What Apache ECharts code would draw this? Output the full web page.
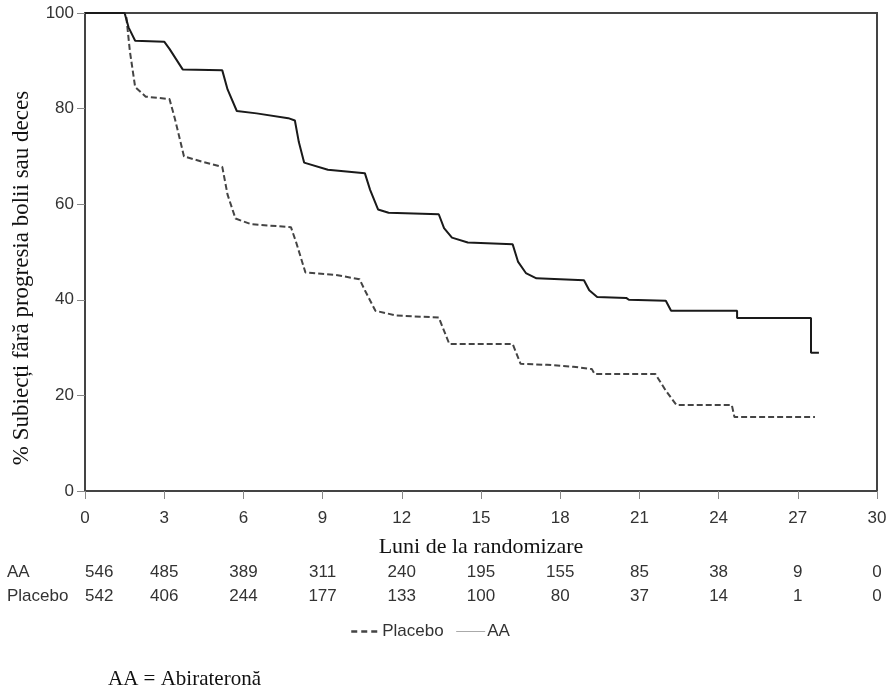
<!DOCTYPE html>
<html>
<head>
<meta charset="utf-8">
<script src="https://cdn.jsdelivr.net/npm/echarts@6/dist/echarts.min.js"></script>
<style>html,body{margin:0;padding:0;background:#fff}#c{width:890px;height:695px}</style>
</head>
<body>
<div id="c"></div>
<script>
// Kaplan-Meier curves: [month, % progression-free]
const aaCurve = [[0,100],[1.5,100],[1.65,97],[1.9,94.2],[3.0,94],[3.2,92.5],[3.7,88.2],[5.2,88],[5.4,84],[5.75,79.5],[6.5,79],[7.7,78],[7.95,77.5],[8.1,73],[8.3,68.7],[9.2,67.2],[10.6,66.5],[10.8,63],[11.1,58.9],[11.5,58.2],[13.4,57.9],[13.6,55],[13.9,53],[14.5,52],[16.2,51.6],[16.4,48],[16.7,45.6],[17.1,44.5],[18.9,44.1],[19.1,42],[19.4,40.6],[20.5,40.4],[20.6,40.0],[22.0,39.8],[22.2,37.7],[24.7,37.7],[24.7,36.2],[27.5,36.2],[27.5,28.9],[27.8,28.9]];
const placeboCurve = [[0,100],[1.55,100],[1.7,92],[1.9,84.5],[2.3,82.5],[3.2,82],[3.4,78],[3.75,70],[4.5,68.8],[5.2,67.8],[5.4,62],[5.7,57],[6.3,55.8],[7.8,55.2],[8.0,52],[8.35,45.7],[9.5,45.2],[10.4,44.3],[10.6,42],[11.0,37.7],[11.8,36.7],[13.4,36.3],[13.8,30.75],[16.2,30.75],[16.5,26.6],[17.5,26.4],[18.5,26],[19.2,25.5],[19.3,24.5],[21.6,24.5],[22.0,21],[22.4,18.0],[24.5,18.0],[24.6,15.5],[27.65,15.5]];
const riskMonths = [0,3,6,9,12,15,18,21,24,27,30];
const aaRisk = [546,485,389,311,240,195,155,85,38,9,0];
const placeboRisk = [542,406,244,177,133,100,80,37,14,1,0];

const sans = 'Liberation Sans';
const serif = 'Liberation Serif';
const chart = echarts.init(document.getElementById('c'));
function riskAxis(arr, offset){
  return {
    type:'value', min:0, max:30, interval:3, position:'bottom', offset:offset,
    axisLine:{show:false}, axisTick:{show:false}, splitLine:{show:false},
    axisLabel:{margin:8, fontFamily:sans, fontSize:17, color:'#333', alignMinLabel:'left',
      formatter:function(v){ const i = riskMonths.indexOf(Math.round(v)); return i>=0 ? String(arr[i]) : ''; }}
  };
}
chart.setOption({
  animation:false,
  grid:{left:85, right:13, top:13, bottom:204, show:true, borderColor:'#444', borderWidth:2, backgroundColor:'transparent'},
  legend:{top:618, left:345, itemWidth:29, itemHeight:10, itemGap:12,
    itemStyle:{opacity:0},
    textStyle:{fontFamily:sans, fontSize:17, color:'#333', padding:[0,0,0,-3]},
    data:[{name:'Placebo', lineStyle:{width:2.5, type:[6,4]}},{name:'AA', lineStyle:{width:1, color:'#aaa'}}]},
  xAxis:[{
    type:'value', min:0, max:30, interval:3,
    axisLine:{show:true, lineStyle:{color:'#444', width:2}},
    axisTick:{show:true, length:8, lineStyle:{color:'#888'}},
    splitLine:{show:false},
    axisLabel:{margin:19, fontFamily:sans, fontSize:17, color:'#333'},
    name:'Luni de la randomizare', nameLocation:'middle', nameGap:45,
    nameTextStyle:{fontFamily:serif, fontSize:22, color:'#111'}
  }, riskAxis(aaRisk, 65), riskAxis(placeboRisk, 89)],
  yAxis:{
    type:'value', min:0, max:100, interval:20,
    axisLine:{show:true, lineStyle:{color:'#444', width:2}},
    axisTick:{show:true, length:8, lineStyle:{color:'#888'}},
    splitLine:{show:false},
    axisLabel:{margin:11, fontFamily:sans, fontSize:17, color:'#333'},
    name:'% Subiecți fără progresia bolii sau deces', nameLocation:'middle', nameGap:52,
    nameTextStyle:{fontFamily:serif, fontSize:23, color:'#111', padding:[0,52,0,0]}
  },
  series:[
    {name:'Placebo', type:'line', data:placeboCurve, symbol:'none',
     itemStyle:{color:'#444'},
     lineStyle:{color:'#444', width:2, type:[6,3]}},
    {name:'AA', type:'line', data:aaCurve, symbol:'none',
     itemStyle:{color:'#1a1a1a'},
     lineStyle:{color:'#1a1a1a', width:2}}
  ],
  graphic:[
    {type:'text', left:7, top:564, style:{text:'AA', fontFamily:sans, fontSize:17, fill:'#333'}},
    {type:'text', left:7, top:588, style:{text:'Placebo', fontFamily:sans, fontSize:17, fill:'#333'}},
    {type:'text', left:108, top:669, style:{text:'AA = Abirateronă', fontFamily:serif, fontSize:21, fill:'#111'}}
  ]
});
</script>
</body>
</html>
